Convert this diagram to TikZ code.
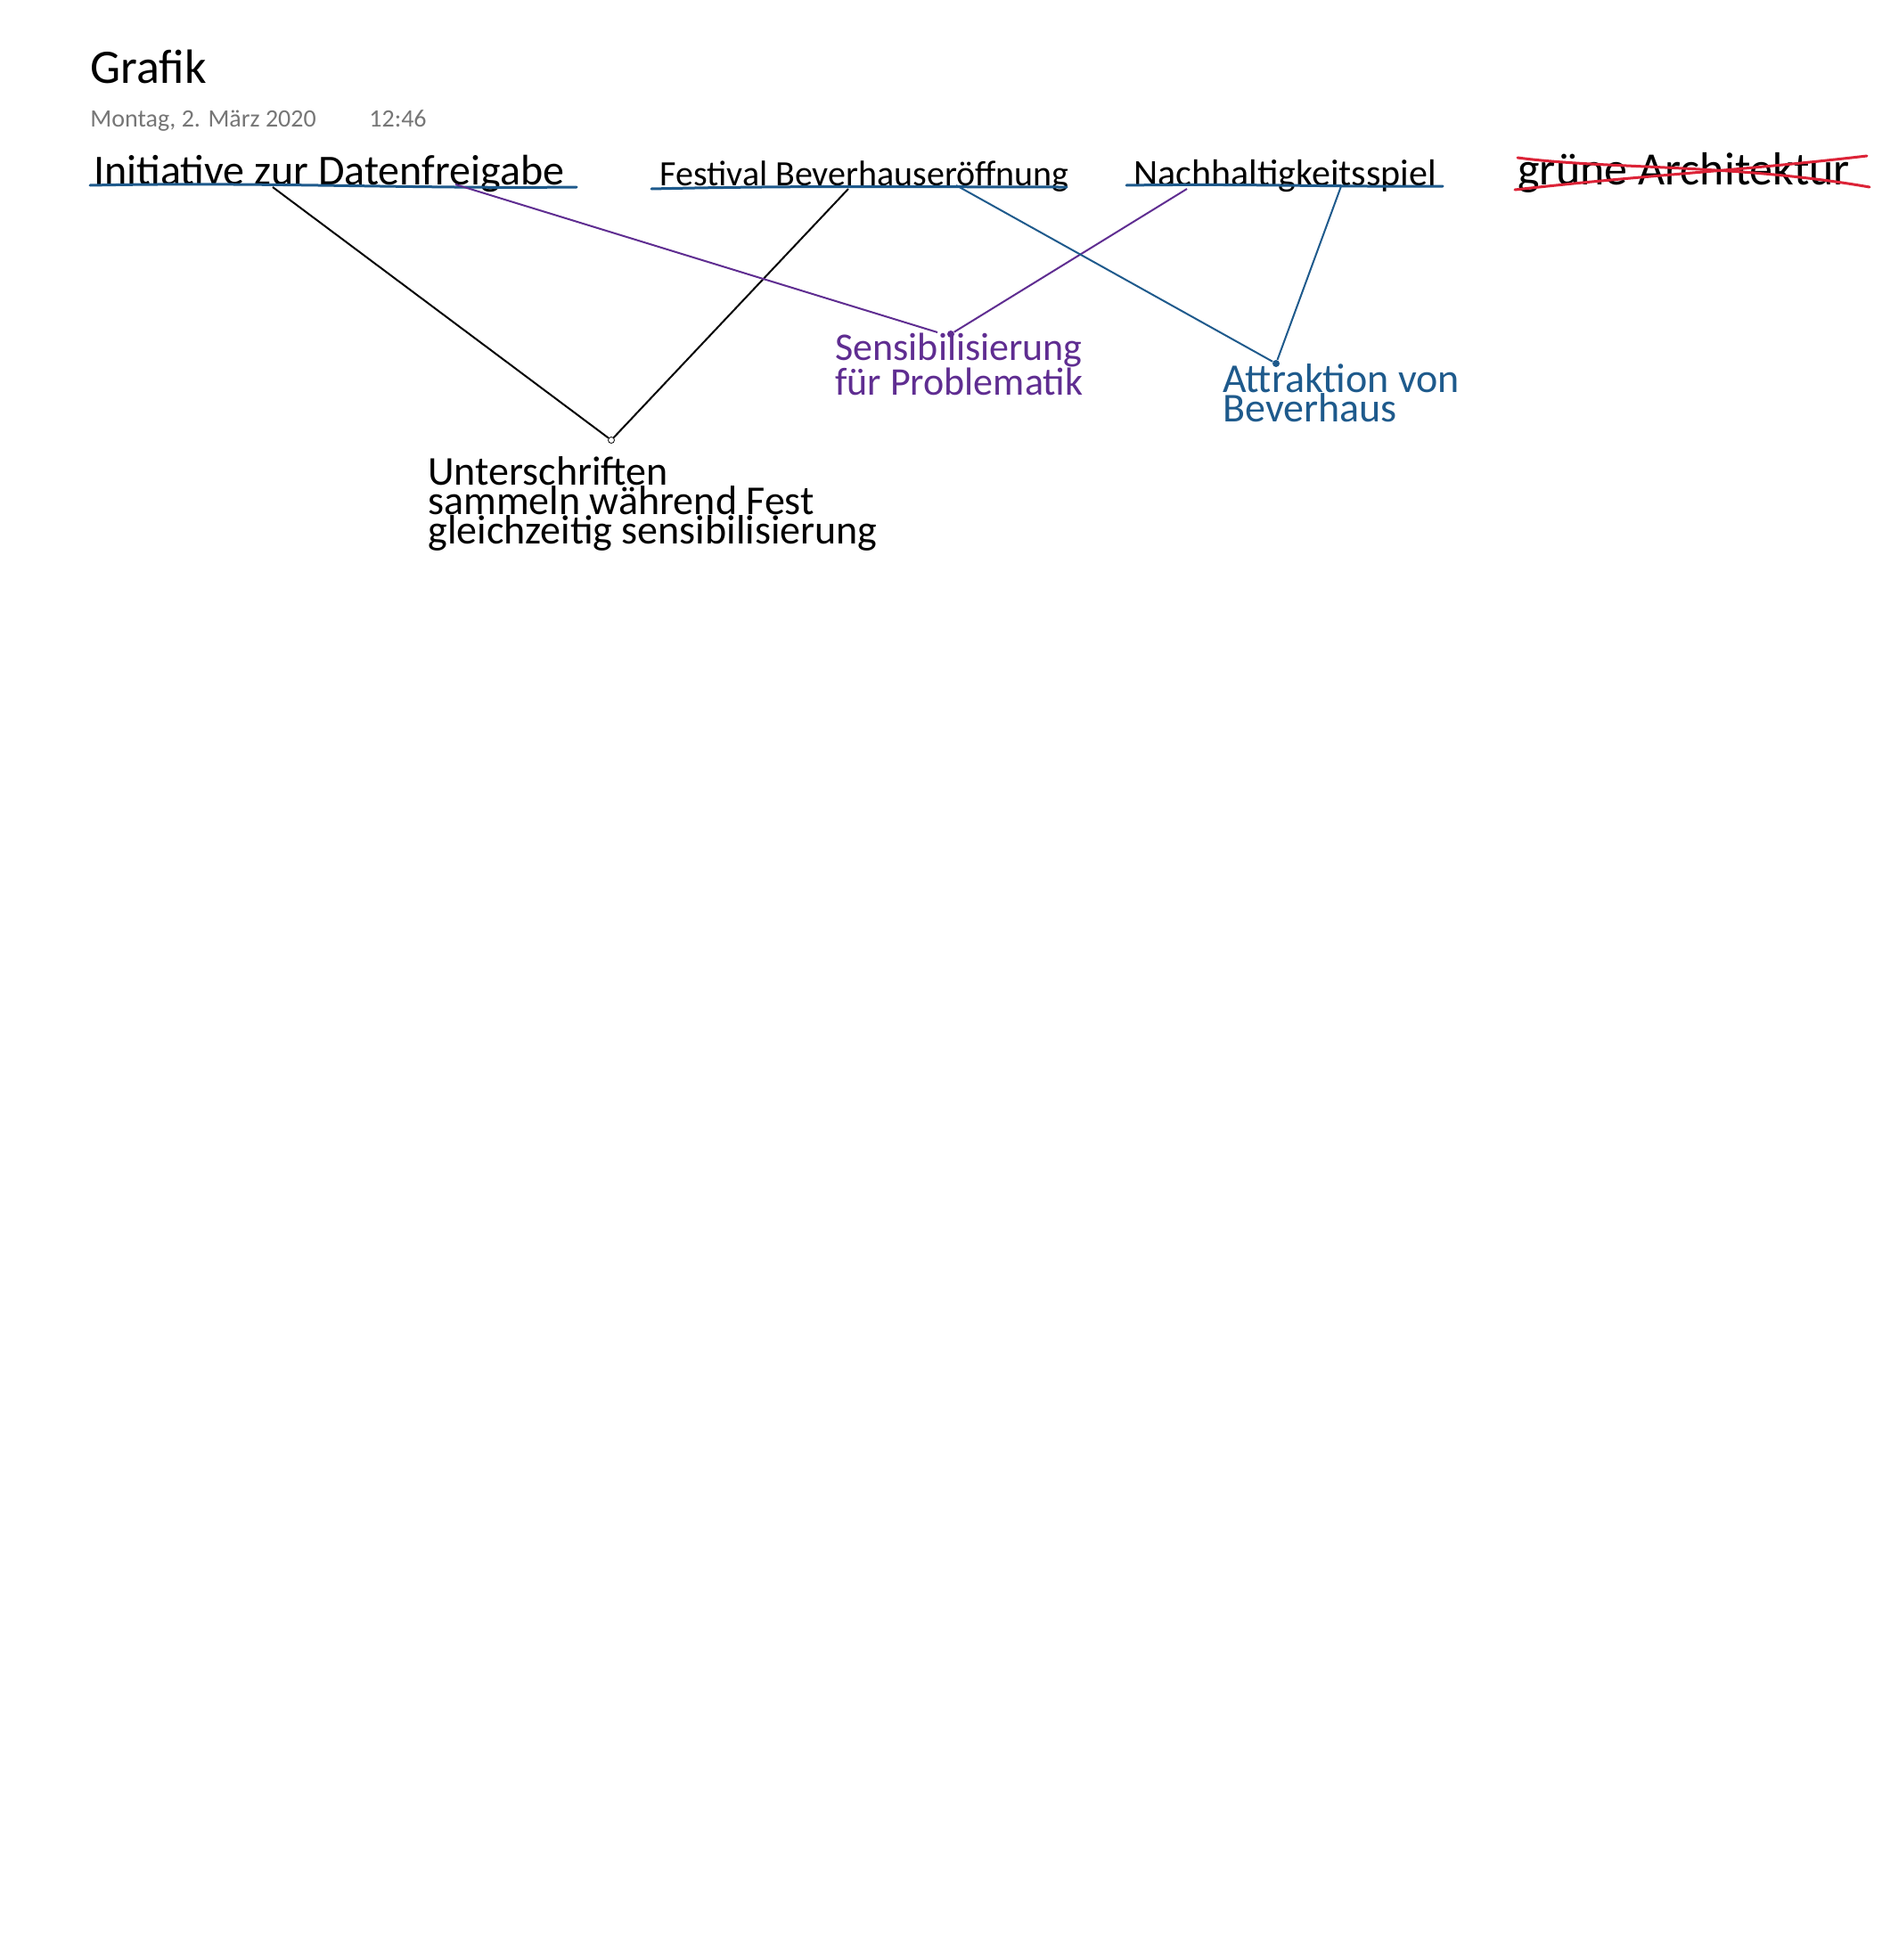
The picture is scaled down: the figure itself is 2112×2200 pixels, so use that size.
\documentclass[tikz,border=0pt]{standalone}
\usepackage{fontspec}
\setmainfont{Carlito}
\definecolor{inkblue}{RGB}{30,90,140}
\definecolor{inkpurple}{RGB}{95,45,145}
\definecolor{inkred}{RGB}{220,35,55}
\definecolor{headgray}{RGB}{118,118,118}

\begin{document}
\begin{tikzpicture}[x=0.5pt, y=-0.5pt,
        hand/.style={anchor=base west, inner sep=0pt, align=left},
        uline/.style={inkblue, line width=1.5pt, line cap=round},
        strike/.style={inkred, line width=1.5pt, line cap=round},
        link/.style={line width=1pt},
        dot/.style={circle, inner sep=0pt, minimum size=4pt}]
            \useasboundingbox[fill=white] (0,0) rectangle (2112,2200);
            \node[hand, font=\fontsize{27}{32}\selectfont] (title) at (101,93) {Grafik};
            \node[hand, headgray, font=\fontsize{14}{17}\selectfont] (date) at (101,142) {Montag, 2. März 2020};
            \node[hand, headgray, font=\fontsize{14}{17}\selectfont] (time) at (414,142) {12:46};
            \node[hand, font=\fontsize{24}{28}\selectfont] (init) at (105,207) {Initiative zur Datenfreigabe};
            \node[hand, font=\fontsize{20}{24}\selectfont] (fest) at (740,208) {Festival Beverhauseröffnung};
            \node[hand, font=\fontsize{21}{24}\selectfont] (spiel) at (1272,208) {Nachhaltigkeitsspiel};
            \node[hand, font=\fontsize{26}{30}\selectfont] (arch) at (1703,207) {grüne Architektur};
            \draw[uline] (101,208) .. controls (300,204) and (450,212) .. (647,210);
            \draw[uline] (731,212) .. controls (900,208) and (1050,210) .. (1197,210);
            \draw[uline] (1264,208) .. controls (1400,206) and (1500,210) .. (1619,209);
            \draw[strike] (1703,177) .. controls (1800,190) and (1950,184) .. (2098,210);
            \draw[strike] (1700,213) .. controls (1850,196) and (1950,192) .. (2095,175);
            \coordinate (iz) at (306,210);
            \coordinate (ig) at (511,207);
            \coordinate (fb) at (952,212);
            \coordinate (fo) at (1073,208);
            \coordinate (nh) at (1332,212);
            \coordinate (ns) at (1505,209);
            \coordinate (sp) at (1052,373);
            \node[dot, draw, fill=white, minimum size=3.5pt] (sig) at (686,494) {};
            \node[dot, fill=inkpurple] (sens) at (1067,375) {};
            \node[dot, fill=inkblue] (attr) at (1432,408) {};
            \draw[link] (iz) -- (sig);
            \draw[link] (fb) -- (sig);
            \draw[link, inkpurple] (ig) -- (sp);
            \draw[link, inkpurple] (nh) -- (sens);
            \draw[link, inkblue] (fo) -- (attr);
            \draw[link, inkblue] (ns) -- (attr);
            \node[hand, inkpurple, font=\fontsize{22}{19.5}\selectfont] (senstext) at (937,443) {Sensibilisierung\\für Problematik};
            \node[hand, inkblue, font=\fontsize{23}{16.5}\selectfont] (attrtext) at (1372,473) {Attraktion von\\Beverhaus};
            \node[hand, font=\fontsize{23}{16.5}\selectfont] (sigtext) at (480,610) {Unterschriften\\sammeln während Fest\\gleichzeitig sensibilisierung};
        \end{tikzpicture}
\end{document}
